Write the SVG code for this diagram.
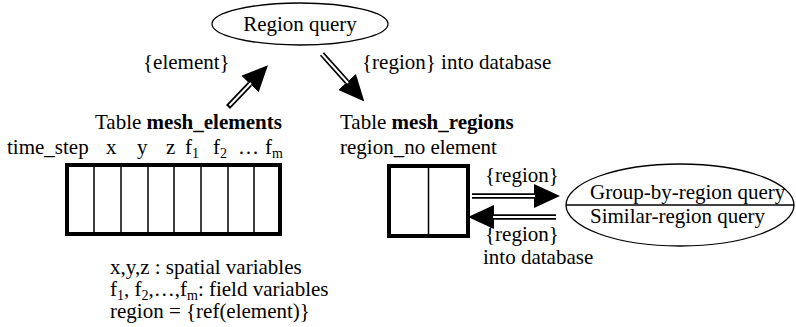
<svg xmlns="http://www.w3.org/2000/svg" width="796" height="327" viewBox="0 0 796 327" font-family="'Liberation Serif', 'Times New Roman', 'DejaVu Serif', serif" font-size="21">
<style>
text{fill:#000}
.b{font-weight:bold}
.sub{font-size:14px}
.outer{fill:none;stroke:#000;stroke-width:4}
.inner{fill:none;stroke:#000;stroke-width:1.5}
.ell{fill:#fff;stroke:#000;stroke-width:1.3}
.dbl{fill:none;stroke:#000;stroke-width:5.5}
.dblw{fill:none;stroke:#fff;stroke-width:2}
</style>
<defs>
<marker id="ah" markerUnits="userSpaceOnUse" markerWidth="26" markerHeight="24" refX="0" refY="11" orient="auto" viewBox="0 0 24 22">
<polygon points="0,0 24,11 0,22" fill="#000"/>
</marker>
</defs>
<rect width="796" height="327" fill="#fff"/>
<g id="region-query">
<ellipse class="ell" cx="300" cy="24" rx="88" ry="21"/>
<text x="300" y="31" text-anchor="middle">Region query</text>
</g>
<g id="mesh-elements">
<text x="95" y="129">Table <tspan class="b">mesh_elements</tspan></text>
<text x="7" y="154">time_step</text>
<text x="106" y="154">x</text>
<text x="137" y="154">y</text>
<text x="166" y="154">z</text>
<text x="185" y="154">f<tspan class="sub" baseline-shift="-4">1</tspan></text>
<text x="213" y="154">f<tspan class="sub" baseline-shift="-4">2</tspan></text>
<text x="238" y="154">…</text>
<text x="265" y="154">f<tspan class="sub" baseline-shift="-4">m</tspan></text>
<rect class="outer" x="67" y="165" width="213" height="69"/>
<path class="inner" d="M94,165V234M121,165V234M148,165V234M174,165V234M201,165V234M228,165V234M254,165V234"/>
<text x="110" y="274">x,y,z : spatial variables</text>
<text x="110" y="296">f<tspan class="sub" baseline-shift="-4">1</tspan>, f<tspan class="sub" baseline-shift="-4">2</tspan>,…,f<tspan class="sub" baseline-shift="-4">m</tspan>: field variables</text>
<text x="110" y="318">region = {ref(element)}</text>
</g>
<g id="mesh-regions">
<text x="340" y="129">Table <tspan class="b">mesh_regions</tspan></text>
<text x="340" y="154">region_no element</text>
<rect class="outer" x="389" y="166" width="79" height="70"/>
<path class="inner" d="M428.5,166V236"/>
</g>
<g id="region-queries">
<ellipse class="ell" cx="680" cy="205" rx="114" ry="41"/>
<path class="inner" d="M566,205H794" style="stroke-width:1.3"/>
<text x="590" y="199">Group-by-region query</text>
<text x="590" y="223">Similar-region query</text>
</g>
<g id="connectors">
<path class="dbl" d="M228,107L250,84" marker-end="url(#ah)"/>
<path class="dblw" d="M229.5,105.5L251,83"/>
<text x="143" y="69">{element}</text>
<path class="dbl" d="M322,54L347,82" marker-end="url(#ah)"/>
<path class="dblw" d="M321,53L348,83"/>
<text x="362" y="69">{region} into database</text>
<path class="dbl" d="M472,196H534" marker-end="url(#ah)"/>
<path class="dblw" d="M471,196H535"/>
<text x="485" y="182">{region}</text>
<path class="dbl" d="M556,217H494" marker-end="url(#ah)"/>
<path class="dblw" d="M557,217H493"/>
<text x="485" y="241">{region}</text>
<text x="483" y="264">into database</text>
</g>
</svg>
